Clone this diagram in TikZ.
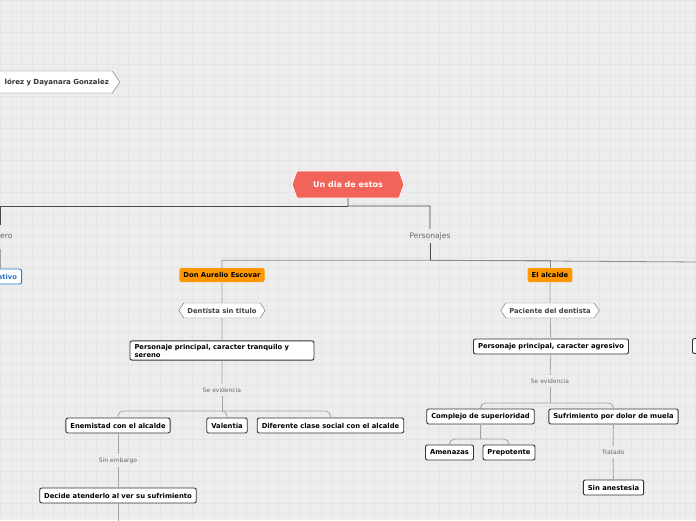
\documentclass[tikz,border=0pt]{standalone}
\usepackage{fontspec}
\setmainfont{DejaVu Sans}
\usetikzlibrary{positioning,shapes.symbols,calc}
\definecolor{bgCol}{HTML}{EDEDED}
\definecolor{gridCol}{HTML}{E5E5E5}
\definecolor{rootCol}{HTML}{F2635A}
\definecolor{persCol}{HTML}{FF9800}
\definecolor{tipoEdge}{HTML}{2B7BD0}
\definecolor{nodeEdge}{HTML}{333333}
\definecolor{hexEdge}{HTML}{6E6E6E}
\definecolor{lineCol}{HTML}{4A4A4A}
\definecolor{barCol}{HTML}{8C8C8C}
\definecolor{subLine}{HTML}{A3A3A3}
\definecolor{lblCol}{HTML}{6A6A6A}

\begin{document}
\begin{tikzpicture}[x=1pt,y=-1pt,every node/.style={font=\bfseries\fontsize{6.8}{8}\selectfont}]
  \tikzset{bx/.style={draw=nodeEdge,fill=white,rounded corners=2pt,line width=0.9pt,inner xsep=4.5pt,
        inner ysep=3pt,minimum height=15pt},
    hx/.style={shape=signal,signal pointer angle=112,draw=hexEdge,fill=white,text=black!75,
        inner xsep=3.5pt,inner ysep=2pt,minimum height=15pt},
    pers/.style={fill=persCol,rounded corners=2pt,inner xsep=4pt,minimum height=14pt},
    lbl/.style={font=\fontsize{6}{7}\selectfont,text=lblCol},
    main/.style={draw=lineCol,line width=0.9pt},
    ln/.style={draw=subLine,line width=0.8pt,rounded corners=5pt}}
  \useasboundingbox (0,0) rectangle (696,520);
  \clip (0,0) rectangle (696,520);
  \fill[bgCol] (0,0) rectangle (696,520);
  \draw[gridCol,line width=0.4pt] (0,0) grid[step=10.7pt] (696,520);
  % nodes
  \node[hx,signal to=east,anchor=east,minimum height=22pt,text width=125pt,align=right,text=black!80,
        font=\bfseries\fontsize{7}{8}\selectfont] (autor) at (120,82) {lórez y Dayanara Gonzalez};
  \node[shape=signal,signal to=east and west,signal pointer angle=140,fill=rootCol,draw=white,line width=0.8pt,
        text=white,font=\bfseries\fontsize{8}{9}\selectfont,minimum width=112pt,minimum height=27pt] (raiz) at (348,184.5) {Un dia de estos};
  \node[font=\fontsize{7.6}{9}\selectfont,text=lblCol] (pers) at (430,236) {Personajes};
  \node[font=\fontsize{7.6}{9}\selectfont,text=lblCol,anchor=east] (gen) at (16,236) {nero};
  \node[bx,draw=tipoEdge,text=tipoEdge,anchor=east] (tipo) at (22,276.5) {ativo};
  \node[pers] (dentista) at (222,275) {Don Aurelio Escovar};
  \node[pers] (alcalde) at (550,275) {El alcalde};
  \node[hx,signal to=east and west] (rol1) at (222,310.5) {Dentista sin titulo};
  \node[hx,signal to=east and west] (rol2) at (550,310.5) {Paciente del dentista};
  \node[bx,text width=175pt,align=left] (desc1) at (222,350.5) {Personaje principal, caracter tranquilo y sereno};
  \node[bx] (desc2) at (551,346.5) {Personaje principal, caracter agresivo};
  \node[bx,anchor=west,minimum width=40pt] (otro) at (692,346) {};
  \node[lbl] (sev1) at (222,390) {Se evidencia};
  \node[bx] (enem) at (118,425.5) {Enemistad con el alcalde};
  \node[bx] (valor) at (227,425.5) {Valentía};
  \node[bx] (clase) at (330.5,425.5) {Diferente clase social con el alcalde};
  \node[lbl] (pero) at (118,460.5) {Sin embargo};
  \node[bx] (decide) at (118,495.5) {Decide atenderlo al ver su sufrimiento};
  \node[lbl] (sev2) at (550,381) {Se evidencia};
  \node[bx] (compl) at (480.5,416.5) {Complejo de superioridad};
  \node[bx] (dolor) at (613.5,416.5) {Sufrimiento por dolor de muela};
  \node[bx] (amen) at (449.5,452.5) {Amenazas};
  \node[bx] (prepo) at (509,452.5) {Prepotente};
  \node[lbl] (trat) at (613,452) {Tratado};
  \node[bx] (anest) at (613.5,487.5) {Sin anestesia};
  % connectors
  \coordinate (j0) at (348,206);
  \coordinate (genA) at (0,225);
  \coordinate (genB) at (0,249);
  \coordinate (finR) at (700,262);
  \coordinate (fin) at (118,526);
  \draw[main] (raiz) -- (j0) -| (pers.north);
  \draw[main] (j0) -| (genA);
  \draw[subLine,line width=0.8pt] (genB) -- (genB |- tipo.north);
  \draw[main] (pers.south) -- ++(0,17) coordinate (j1);
  \draw[barCol,line width=0.8pt] (dentista.north) |- (j1) -- (finR);
  \draw[barCol,line width=0.8pt] (j1) -| (alcalde.north);
  \draw[ln] (dentista) -- (rol1) -- (desc1) -- (sev1);
  \coordinate (j2) at (222,411);
  \draw[ln] (sev1) -- (j2);
  \draw[ln] (enem.north) |- (j2) -| (clase.north);
  \draw[ln] (j2) -| (valor.north);
  \draw[ln] (enem) -- (pero) -- (decide) -- (fin);
  \draw[ln] (alcalde) -- (rol2) -- (desc2) -- (sev2);
  \coordinate (j3) at (550,403);
  \draw[ln] (sev2) -- (j3);
  \draw[ln] (compl.north) |- (j3) -| (dolor.north);
  \coordinate (j4) at (480.5,439);
  \draw[ln] (compl) -- (j4);
  \draw[ln] (amen.north) |- (j4) -| (prepo.north);
  \draw[ln] (dolor) -- (trat) -- (anest);
\end{tikzpicture}
\end{document}
